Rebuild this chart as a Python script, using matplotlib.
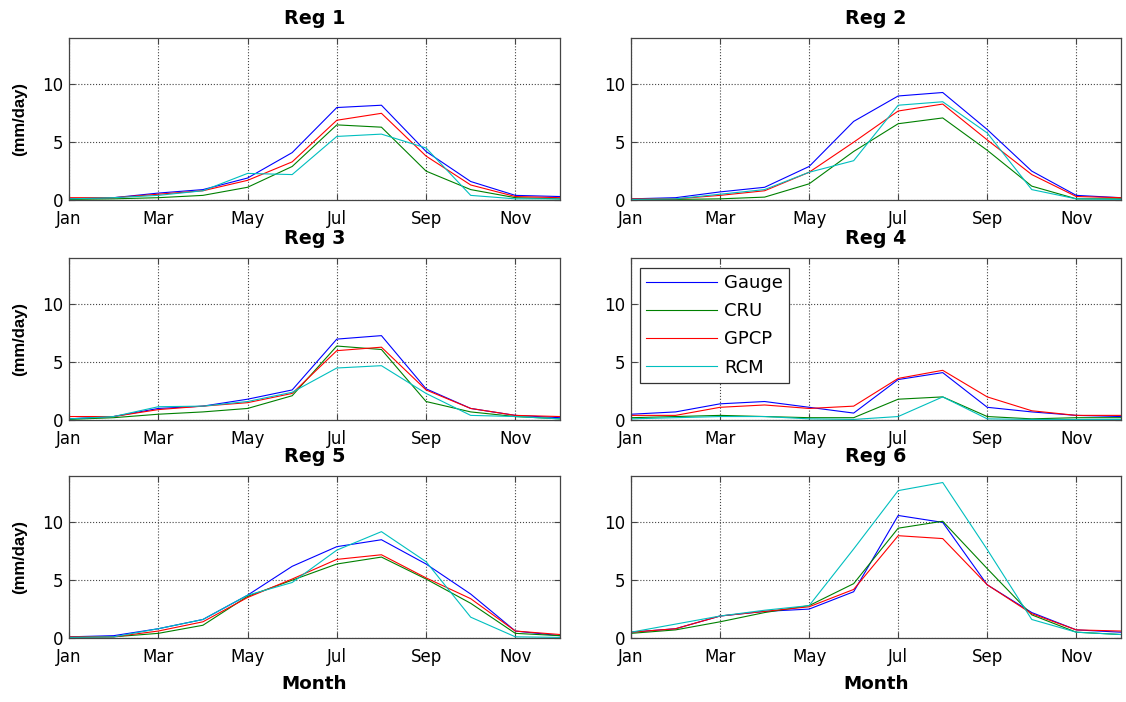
import numpy as np
import matplotlib
matplotlib.use('Agg')
import matplotlib.pyplot as plt

plt.rcParams['font.family'] = ['DejaVu Sans']

# Month index (Jan..Dec) and tick labels
months = np.arange(1, 13)
tick_months = [1, 3, 5, 7, 9, 11]
tick_labels = ['Jan', 'Mar', 'May', 'Jul', 'Sep', 'Nov']
regions = ['Reg 1', 'Reg 2', 'Reg 3', 'Reg 4', 'Reg 5', 'Reg 6']

# Monthly precipitation (mm/day), one row per region
gauge = [
  [0.1, 0.2, 0.6, 0.9, 1.9, 4.1, 8.0, 8.2, 4.2, 1.6, 0.4, 0.3],
  [0.1, 0.2, 0.7, 1.1, 2.9, 6.8, 9.0, 9.3, 6.1, 2.5, 0.4, 0.2],
  [0.1, 0.3, 1.0, 1.2, 1.8, 2.6, 7.0, 7.3, 2.7, 1.0, 0.4, 0.2],
  [0.5, 0.7, 1.4, 1.6, 1.1, 0.6, 3.5, 4.1, 1.1, 0.7, 0.4, 0.3],
  [0.1, 0.2, 0.8, 1.6, 3.7, 6.2, 7.9, 8.5, 6.4, 3.8, 0.6, 0.2],
  [0.5, 0.8, 1.9, 2.3, 2.5, 4.0, 10.6, 10.0, 4.6, 2.2, 0.7, 0.5],
]
cru = [
  [0.05, 0.1, 0.2, 0.4, 1.1, 2.9, 6.5, 6.3, 2.5, 0.9, 0.2, 0.1],
  [0.05, 0.05, 0.1, 0.25, 1.4, 4.2, 6.6, 7.1, 4.3, 1.2, 0.1, 0.1],
  [0.05, 0.2, 0.5, 0.7, 1.0, 2.1, 6.4, 6.1, 1.6, 0.7, 0.3, 0.1],
  [0.2, 0.3, 0.4, 0.3, 0.2, 0.2, 1.8, 2.0, 0.3, 0.1, 0.2, 0.2],
  [0.05, 0.1, 0.4, 1.1, 3.6, 5.0, 6.4, 7.0, 5.1, 3.0, 0.4, 0.2],
  [0.4, 0.7, 1.4, 2.2, 2.8, 4.7, 9.5, 10.1, 6.0, 2.0, 0.5, 0.3],
]
gpcp = [
  [0.2, 0.2, 0.5, 0.8, 1.7, 3.3, 6.9, 7.5, 3.8, 1.3, 0.3, 0.2],
  [0.1, 0.1, 0.4, 0.8, 2.4, 5.0, 7.7, 8.3, 5.2, 2.2, 0.3, 0.2],
  [0.3, 0.3, 0.9, 1.2, 1.5, 2.3, 6.0, 6.3, 2.6, 1.0, 0.4, 0.3],
  [0.4, 0.4, 1.1, 1.3, 1.0, 1.2, 3.6, 4.3, 2.0, 0.8, 0.4, 0.4],
  [0.1, 0.1, 0.6, 1.4, 3.5, 5.1, 6.8, 7.2, 5.2, 3.4, 0.6, 0.3],
  [0.5, 0.8, 1.9, 2.3, 2.7, 4.2, 8.85, 8.6, 4.6, 2.1, 0.7, 0.6],
]
rcm = [
  [0.1, 0.2, 0.4, 0.8, 2.3, 2.2, 5.5, 5.7, 4.5, 0.4, 0.1, 0.1],
  [0.05, 0.1, 0.5, 0.9, 2.4, 3.4, 8.2, 8.5, 5.8, 0.9, 0.1, 0.05],
  [0.1, 0.3, 1.15, 1.2, 1.6, 2.4, 4.5, 4.7, 2.3, 0.4, 0.3, 0.1],
  [0.1, 0.2, 0.3, 0.3, 0.1, 0.05, 0.3, 2.0, 0.1, 0.05, 0.05, 0.05],
  [0.05, 0.1, 0.8, 1.6, 3.7, 4.8, 7.6, 9.2, 6.6, 1.8, 0.1, 0.05],
  [0.5, 1.2, 1.9, 2.4, 2.8, 7.7, 12.75, 13.45, 7.65, 1.6, 0.5, 0.3],
]

series = [('Gauge', gauge, (0, 0, 1)),
          ('CRU',   cru,   (0, 0.5, 0)),
          ('GPCP',  gpcp,  (1, 0, 0)),
          ('RCM',   rcm,   (0, 0.75, 0.75))]

fig = plt.figure(figsize=(11.26, 7.02), dpi=100)

# Axes positions (figure fraction) to match the MATLAB subplot layout
lefts   = [0.0613, 0.5604]
widths  = [0.436, 0.435]
bottoms = [0.7151, 0.4017, 0.0912]
height  = 0.2305

for i, reg in enumerate(regions):
  row, col = i // 2, i % 2
  ax = fig.add_axes([lefts[col], bottoms[row], widths[col], height])
  for name, data, color in series:
    ax.plot(months, data[i], '-', color=color, linewidth=0.8, label=name)

  ax.set_xlim(1, 12)
  ax.set_ylim(0, 14)
  ax.set_xticks(tick_months)
  ax.set_xticklabels(tick_labels)
  ax.set_yticks([0, 5, 10])
  ax.grid(True, linestyle=':', color='#444444', linewidth=0.8)
  ax.tick_params(direction='in', top=True, right=True, length=4,
                 labelsize=12, color='#444444')
  ax.tick_params(axis='x', pad=7)
  ax.tick_params(axis='y', pad=4)
  for s in ax.spines.values():
    s.set_color('#444444')
    s.set_linewidth(0.9)

  ax.set_title(reg, fontsize=13.8, fontweight='bold', pad=10)
  if col == 0:
    ax.set_ylabel('(mm/day)', fontsize=12, fontweight='bold',
                  family='Liberation Sans', labelpad=11)
  if row == 2:
    ax.set_xlabel('Month', fontsize=13.2, fontweight='bold', labelpad=7)

  if i == 3:
    leg = ax.legend(loc='upper left', bbox_to_anchor=(0.018, 0.94),
                    borderaxespad=0, fontsize=13, handlelength=3.9,
                    handletextpad=0.4, labelspacing=0.56, borderpad=0.35,
                    fancybox=False, framealpha=1, edgecolor='#333333')
    leg.get_frame().set_linewidth(0.9)

plt.savefig('out.png')
